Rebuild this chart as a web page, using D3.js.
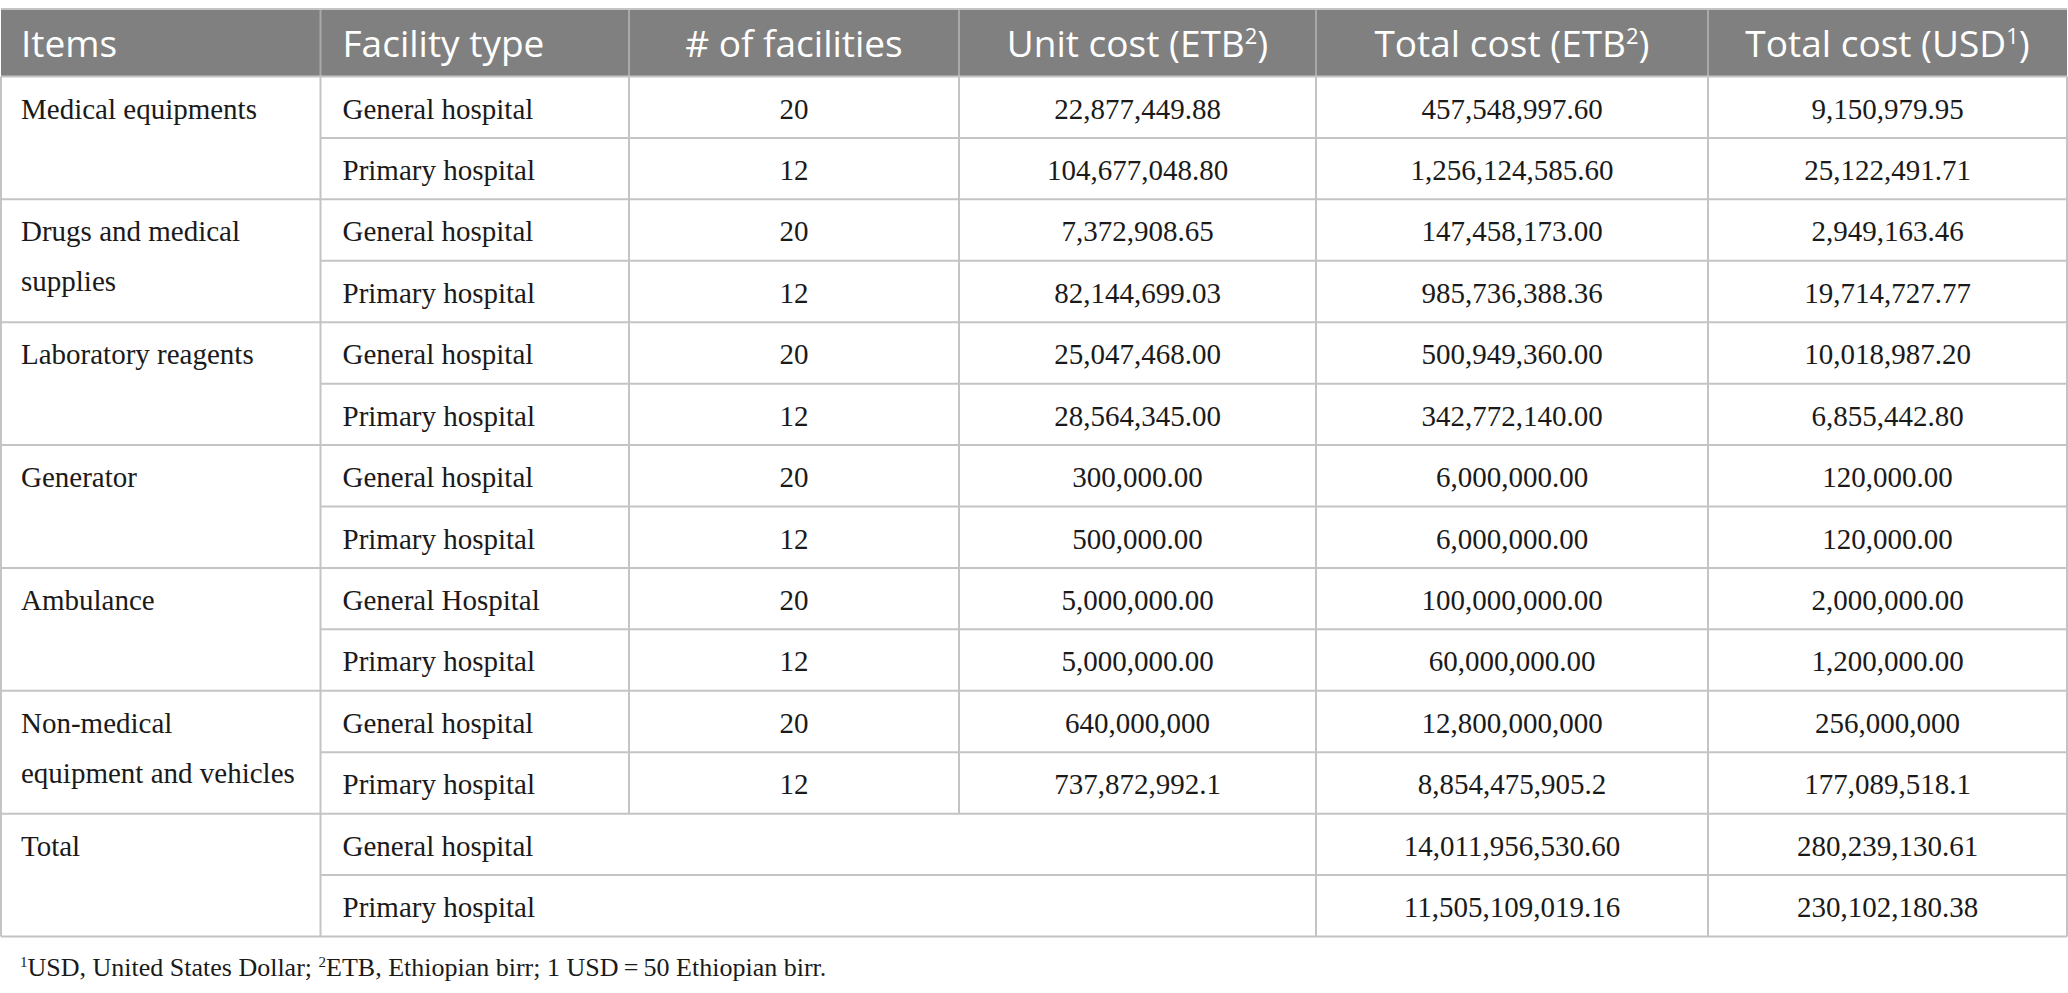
<!DOCTYPE html>
<html>
<head>
<meta charset="utf-8">
<script src="https://cdn.jsdelivr.net/npm/d3@7"></script>
<style>
  html, body { margin: 0; padding: 0; background: #ffffff; }
  svg { display: block; }
</style>
</head>
<body>
<svg id="chart" width="2068" height="993"></svg>
<script>
// ---------------- DATA ----------------
const headers = [
  { text: "Items", sup: null },
  { text: "Facility type", sup: null },
  { text: "# of facilities", sup: null },
  { text: "Unit cost (ETB", sup: "2", tail: ")" },
  { text: "Total cost (ETB", sup: "2", tail: ")" },
  { text: "Total cost (USD", sup: "1", tail: ")" }
];
const items = [
  ["Medical equipments"],
  ["Drugs and medical", "supplies"],
  ["Laboratory reagents"],
  ["Generator"],
  ["Ambulance"],
  ["Non-medical", "equipment and vehicles"],
  ["Total"]
];
const facilityTypes = [
  "General hospital", "Primary hospital",
  "General hospital", "Primary hospital",
  "General hospital", "Primary hospital",
  "General hospital", "Primary hospital",
  "General Hospital", "Primary hospital",
  "General hospital", "Primary hospital",
  "General hospital", "Primary hospital"
];
const numFacilities = [20, 12, 20, 12, 20, 12, 20, 12, 20, 12, 20, 12];
const unitCost = [
  "22,877,449.88", "104,677,048.80",
  "7,372,908.65", "82,144,699.03",
  "25,047,468.00", "28,564,345.00",
  "300,000.00", "500,000.00",
  "5,000,000.00", "5,000,000.00",
  "640,000,000", "737,872,992.1"
];
const totalETB = [
  "457,548,997.60", "1,256,124,585.60",
  "147,458,173.00", "985,736,388.36",
  "500,949,360.00", "342,772,140.00",
  "6,000,000.00", "6,000,000.00",
  "100,000,000.00", "60,000,000.00",
  "12,800,000,000", "8,854,475,905.2",
  "14,011,956,530.60", "11,505,109,019.16"
];
const totalUSD = [
  "9,150,979.95", "25,122,491.71",
  "2,949,163.46", "19,714,727.77",
  "10,018,987.20", "6,855,442.80",
  "120,000.00", "120,000.00",
  "2,000,000.00", "1,200,000.00",
  "256,000,000", "177,089,518.1",
  "280,239,130.61", "230,102,180.38"
];
const footnote = [
  { t: "1", sup: true }, { t: "USD, United States Dollar; " },
  { t: "2", sup: true }, { t: "ETB, Ethiopian birr; 1 USD\u2009=\u200950 Ethiopian birr." }
];

// ---------------- LAYOUT ----------------
const svg = d3.select("#chart");
const colEdges = [1, 320.5, 629, 959, 1316, 1708, 2067];
const headerTop = 9, headerBottom = 76.5, bodyBottom = 936.5;
const nRows = facilityTypes.length;
const y = d3.scaleLinear().domain([0, nRows]).range([headerBottom, bodyBottom]);
const colCenter = i => (colEdges[i] + colEdges[i + 1]) / 2;
const lineColor = "#c4c4c4";
const serif = "'Liberation Serif', 'Times New Roman', serif";
const sans = "'Open Sans', 'Noto Sans', sans-serif";
const bodySize = 29;
const baseOff = 42;

svg.append("rect").attr("x", 0).attr("y", 0).attr("width", 2068).attr("height", 993).attr("fill", "#fff");

// header background
svg.append("rect")
  .attr("x", colEdges[0]).attr("y", headerTop)
  .attr("width", colEdges[6] - colEdges[0]).attr("height", headerBottom - headerTop)
  .attr("fill", "#808080");

// header dividers
svg.selectAll("line.hdiv").data(colEdges.slice(1, 6)).enter().append("line")
  .attr("class", "hdiv")
  .attr("x1", d => d).attr("x2", d => d)
  .attr("y1", headerTop).attr("y2", headerBottom)
  .attr("stroke", "#a9a9a9").attr("stroke-width", 2);

// header text
const ht = svg.selectAll("text.head").data(headers).enter().append("text")
  .attr("class", "head")
  .attr("x", (d, i) => i < 2 ? colEdges[i] + (i === 0 ? 20 : 22) : colCenter(i))
  .attr("y", 57)
  .attr("text-anchor", (d, i) => i < 2 ? "start" : "middle")
  .attr("font-family", sans).attr("font-size", 37).attr("fill", "#ffffff");
ht.each(function (d) {
  const t = d3.select(this);
  t.append("tspan").text(d.text);
  if (d.sup) {
    t.append("tspan").attr("dy", -13).attr("font-size", 22).text(d.sup);
    t.append("tspan").attr("dy", 13).text(d.tail);
  }
});

// grid lines
const g = svg.append("g").attr("stroke", lineColor).attr("stroke-width", 2).attr("fill", "none");
// top border line
g.append("line").attr("x1", colEdges[0]).attr("x2", colEdges[6]).attr("y1", headerTop).attr("y2", headerTop);
// horizontal lines
d3.range(0, nRows + 1).forEach(r => {
  const x1 = (r % 2 === 1) ? colEdges[1] : colEdges[0];
  g.append("line").attr("x1", x1).attr("x2", colEdges[6]).attr("y1", y(r)).attr("y2", y(r));
});
// vertical lines
[0, 1, 4, 5, 6].forEach(c => {
  g.append("line").attr("x1", colEdges[c]).attr("x2", colEdges[c]).attr("y1", headerBottom).attr("y2", bodyBottom);
});
[2, 3].forEach(c => {
  g.append("line").attr("x1", colEdges[c]).attr("x2", colEdges[c]).attr("y1", headerBottom).attr("y2", y(numFacilities.length));
});

// body text
const body = svg.append("g").attr("font-family", serif).attr("font-size", bodySize).attr("fill", "#1a1a1a");

items.forEach((lines, k) => {
  const t = body.append("text").attr("x", colEdges[0] + 20).attr("y", y(2 * k) + baseOff);
  lines.forEach((ln, j) => {
    t.append("tspan").attr("x", colEdges[0] + 20).attr("dy", j === 0 ? 0 : 50).text(ln);
  });
});

body.selectAll("text.fac").data(facilityTypes).enter().append("text")
  .attr("class", "fac")
  .attr("x", colEdges[1] + 22).attr("y", (d, i) => y(i) + baseOff).text(d => d);

body.selectAll("text.num").data(numFacilities).enter().append("text")
  .attr("class", "num").attr("text-anchor", "middle")
  .attr("x", colCenter(2)).attr("y", (d, i) => y(i) + baseOff).text(d => d);

body.selectAll("text.unit").data(unitCost).enter().append("text")
  .attr("class", "unit").attr("text-anchor", "middle")
  .attr("x", colCenter(3)).attr("y", (d, i) => y(i) + baseOff).text(d => d);

body.selectAll("text.etb").data(totalETB).enter().append("text")
  .attr("class", "etb").attr("text-anchor", "middle")
  .attr("x", colCenter(4)).attr("y", (d, i) => y(i) + baseOff).text(d => d);

body.selectAll("text.usd").data(totalUSD).enter().append("text")
  .attr("class", "usd").attr("text-anchor", "middle")
  .attr("x", colCenter(5)).attr("y", (d, i) => y(i) + baseOff).text(d => d);

// footnote
const fn = svg.append("text").attr("x", 20).attr("y", 976)
  .attr("font-family", serif).attr("font-size", 26).attr("fill", "#1a1a1a");
footnote.forEach(p => {
  if (p.sup) fn.append("tspan").attr("dy", -9).attr("font-size", 15).text(p.t);
  else fn.append("tspan").attr("dy", fn.selectAll("tspan").size() ? 9 : 0).text(p.t);
});
</script>
</body>
</html>
